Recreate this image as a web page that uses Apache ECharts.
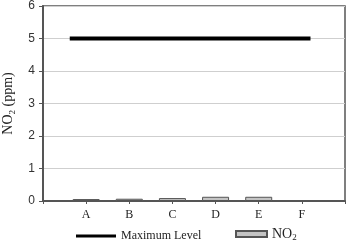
<!DOCTYPE html>
<html><head><meta charset="utf-8">
<script src="https://cdn.jsdelivr.net/npm/echarts@6/dist/echarts.min.js"></script>
<style>html,body{margin:0;padding:0;background:#fff}#c{width:348px;height:245px}</style>
</head><body><div id="c"></div>
<script>
const categories = ['A','B','C','D','E','F'];
const no2Values = [0.06, 0.07, 0.09, 0.13, 0.13, 0.03];
const maxLevelX = [0.62, 6.2];
const maxLevelY = [5, 5];
const yTicks = [0,1,2,3,4,5,6];

const chart = echarts.init(document.getElementById('c'), null, {renderer:'canvas'});
const serif = '"Liberation Serif", "DejaVu Serif", serif';
const sans = '"Liberation Sans", Arial, sans-serif';
chart.setOption({
  animation: false,
  grid: {left: 43, right: 3, top: 6, bottom: 44, containLabel: false, outerBoundsMode: 'none',
         show: true, borderColor: '#555', borderWidth: 1.5, backgroundColor: 'transparent'},
  legend: [
    {data: [{name: 'Maximum Level', icon: 'rect'}], left: 71, top: 225, itemWidth: 40, itemHeight: 3, itemGap: 6,
     textStyle: {fontFamily: serif, fontSize: 12, color: '#222'}},
    {data: [{name: 'NO2', icon: 'rect'}], left: 230, top: 222, itemWidth: 31, itemHeight: 6,
     formatter: () => 'NO{s|2}',
     textStyle: {fontFamily: serif, fontSize: 14, color: '#222', rich: {s: {fontSize: 9, verticalAlign: 'bottom', padding: [8,0,0,0], fontFamily: serif}}}}
  ],
  xAxis: {
    type: 'value', min: 0, max: 7, interval: 1,
    axisLine: {show: true, lineStyle: {color: '#555', width: 2}},
    axisTick: {show: true, length: 3, lineStyle: {color: '#555'}},
    splitLine: {show: false},
    axisLabel: {fontFamily: serif, fontSize: 12, color: '#222', margin: 8,
      formatter: v => (v >= 1 && v <= categories.length) ? categories[v-1] : ''}
  },
  yAxis: {
    type: 'value', min: yTicks[0], max: yTicks[yTicks.length-1], interval: 1,
    name: 'NO{s|2} (ppm)', nameLocation: 'middle', nameGap: 26, nameRotate: 90,
    nameTextStyle: {fontFamily: serif, fontSize: 14, color: '#222', rich: {s: {fontSize: 9, fontFamily: serif, padding: [9,0,0,0]}}},
    axisLine: {show: true, lineStyle: {color: '#555', width: 2}},
    axisTick: {show: true, length: 4, lineStyle: {color: '#555'}},
    splitLine: {show: true, lineStyle: {color: '#cfcfcf', width: 1}},
    axisLabel: {fontFamily: sans, fontSize: 12, color: '#333', margin: 8}
  },
  series: [
    {name: 'Maximum Level', type: 'line', data: maxLevelX.map((x,i)=>[x, maxLevelY[i]]),
     symbol: 'none', lineStyle: {color: '#000', width: 4}, itemStyle: {color: '#000'}, z: 5},
    {name: 'NO2', type: 'bar', data: no2Values.map((v,i)=>[i+1, v]), barWidth: 27,
     itemStyle: {color: '#c4c4c4', borderColor: '#555', borderWidth: 1}}
  ]
});
</script></body></html>
